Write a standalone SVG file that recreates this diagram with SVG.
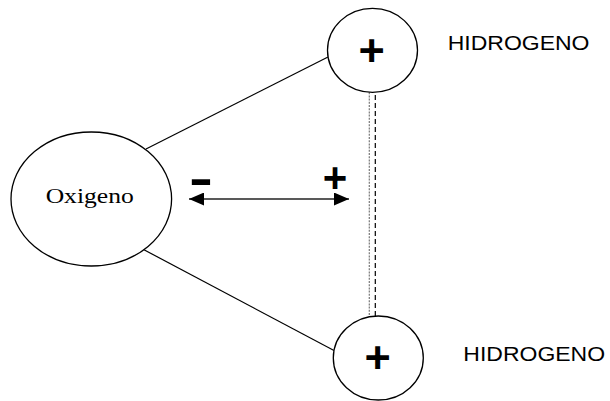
<svg xmlns="http://www.w3.org/2000/svg" width="610" height="401" viewBox="0 0 610 401">
<defs>
<style>
.node{fill:#fff;stroke:#000;stroke-width:1.3}
.conn{stroke:#000;stroke-width:1.2;fill:none}
.sign{font-family:"Liberation Sans",Arial,sans-serif;font-weight:bold;fill:#000;text-anchor:middle}
.lbl{font-family:"Liberation Sans",Arial,sans-serif;font-size:20px;fill:#000}
</style>
<marker id="ah" viewBox="0 0 15 13" refX="15" refY="6.5" markerWidth="15" markerHeight="13" markerUnits="userSpaceOnUse" orient="auto-start-reverse">
<path d="M0,0 L15,6.5 L0,13 Z" fill="#000"/>
</marker>
</defs>
<rect width="610" height="401" fill="#fff"/>
<g id="connectors">
<line class="conn" x1="146" y1="149" x2="328" y2="57"/>
<line class="conn" x1="143.5" y1="249.5" x2="334" y2="350.5"/>
<line x1="369.3" y1="89" x2="369.3" y2="320" stroke="#777" stroke-width="1.2" stroke-dasharray="2,1.2"/>
<line x1="375.3" y1="95" x2="375.3" y2="316" stroke="#000" stroke-width="1.2" stroke-dasharray="5,3"/>
<line x1="189" y1="199" x2="349" y2="199" stroke="#222" stroke-width="1.3" marker-start="url(#ah)" marker-end="url(#ah)"/>
<text class="sign" x="335" y="192" font-size="42">+</text>
<text class="sign" x="0" y="0" font-size="48" transform="translate(201,194.5) scale(1.5,1)">-</text>
</g>
<g id="oxigeno">
<ellipse class="node" cx="91.3" cy="199" rx="80.3" ry="67"/>
<text x="0" y="0" font-family="Liberation Serif,'Times New Roman',serif" font-size="21" text-anchor="middle" transform="translate(89.7,203) scale(1.22,1)">Oxigeno</text>
</g>
<g id="hidrogeno1">
<ellipse class="node" cx="372.5" cy="50.3" rx="45" ry="42"/>
<text class="sign" x="371.7" y="66" font-size="45">+</text>
<text class="lbl" x="0" y="0" transform="translate(447.7,50) scale(1.15,1)">HIDROGENO</text>
</g>
<g id="hidrogeno2">
<ellipse class="node" cx="378.3" cy="358" rx="45" ry="42"/>
<text class="sign" x="377.7" y="373" font-size="45">+</text>
<text class="lbl" x="0" y="0" transform="translate(463.3,361) scale(1.15,1)">HIDROGENO</text>
</g>
</svg>
